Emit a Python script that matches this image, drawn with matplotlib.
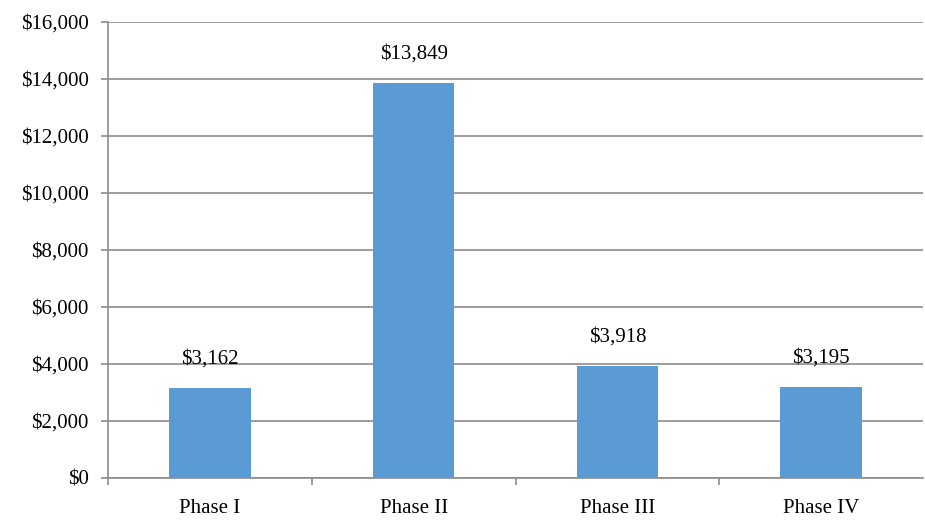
import matplotlib
matplotlib.use("Agg")
import matplotlib.pyplot as plt
from matplotlib.ticker import FuncFormatter

# data
phases = ["Phase I", "Phase II", "Phase III", "Phase IV"]
costs = [3162, 13849, 3918, 3195]

BAR_COLOR = "#5B9BD5"
GRID_COLOR = "#8C8C8C"

plt.rcParams["font.family"] = ["Liberation Serif", "DejaVu Serif"]

fig = plt.figure(figsize=(9.25, 5.21), dpi=100)
ax = fig.add_axes([108 / 925, 43 / 521, 815 / 925, 456 / 521])

x = range(len(phases))
bars = ax.bar(x, costs, width=0.4, color=BAR_COLOR, zorder=3)

# value labels above the bars
for b, v in zip(bars, costs):
    ax.annotate(f"${v:,}", (b.get_x() + b.get_width() / 2, b.get_height()),
                xytext=(0, 14), textcoords="offset points",
                ha="center", va="bottom", fontsize=15)

ax.set_xlim(-0.5, len(phases) - 0.5)
ax.set_ylim(0, 16000)
ax.set_yticks(range(0, 16001, 2000))
ax.yaxis.set_major_formatter(FuncFormatter(lambda v, p: f"${int(v):,}"))

ax.set_xticks(x)
ax.set_xticklabels(phases)
ax.set_xticks([i + 0.5 for i in range(len(phases) - 1)] + [-0.5], minor=True)

ax.grid(axis="y", color=GRID_COLOR, linewidth=1.2, zorder=0)
for s in ["top", "right"]:
    ax.spines[s].set_visible(False)
for s in ["left", "bottom"]:
    ax.spines[s].set_color(GRID_COLOR)
    ax.spines[s].set_linewidth(1.2)

ax.tick_params(axis="x", which="major", length=0, pad=15, labelsize=15)
ax.tick_params(axis="x", which="minor", length=5, color=GRID_COLOR, width=1.2)
ax.tick_params(axis="y", length=5, color=GRID_COLOR, width=1.2, labelsize=15, pad=9)

fig.savefig("out.png", dpi=100)
